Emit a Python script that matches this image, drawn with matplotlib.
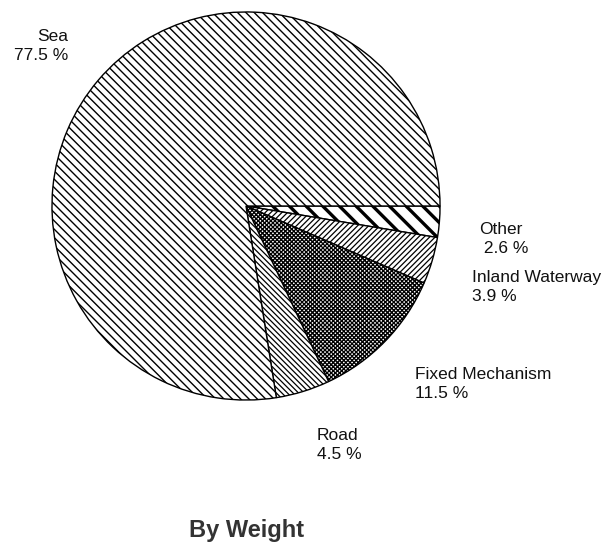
import matplotlib
matplotlib.use("Agg")
import matplotlib.pyplot as plt

# transport share by weight (%), clockwise from 3 o'clock
modes = ["Other", "Inland Waterway", "Fixed Mechanism", "Road", "Sea"]
shares = [2.6, 3.9, 11.5, 4.5, 77.5]
label_text = ["Other\n 2.6 %", "Inland Waterway\n3.9 %", "Fixed Mechanism\n11.5 %",
              "Road\n4.5 %", "Sea\n77.5 %"]

hatches = ["\\" * 2, "/" * 6, "x" * 8, "\\" * 6, "\\" * 4]
hatch_lw = [2.4, 0.9, 0.95, 0.9, 1.0]

# label anchor positions in pixels (x, top y) and alignment
label_pos = [(479, 222, "left"), (472, 270, "left"), (415, 367, "left"),
             (317, 428, "left"), (68, 29, "right")]

W, H = 603, 545
cx, cy, r = 246, 206, 195

plt.rcParams["font.family"] = ["Liberation Sans", "DejaVu Sans"]

fig = plt.figure(figsize=(W / 100, H / 100), dpi=100)
ax = fig.add_axes([(cx - r) / W, (H - cy - r) / H, 2 * r / W, 2 * r / H])

wedges, _ = ax.pie(shares, startangle=0, counterclock=False, radius=1,
                   wedgeprops=dict(facecolor="white", edgecolor="black", linewidth=1.0))
for w, h, lw in zip(wedges, hatches, hatch_lw):
    w.set_hatch(h)
    if hasattr(w, "set_hatch_linewidth"):
        w.set_hatch_linewidth(lw)

ax.set_xlim(-1.005, 1.005)
ax.set_ylim(-1.005, 1.005)
ax.set_aspect("equal")
ax.axis("off")

for txt, (px, py, ha) in zip(label_text, label_pos):
    fig.text(px / W, 1 - py / H, txt, ha=ha, va="top", fontsize=12.5,
             linespacing=1.3, color="#111111")

fig.text(247 / W, 1 - 531 / H, "By Weight", ha="center", va="center",
         fontsize=17, fontweight="bold", color="#333333")

fig.savefig("out.png", dpi=100, facecolor="white")
